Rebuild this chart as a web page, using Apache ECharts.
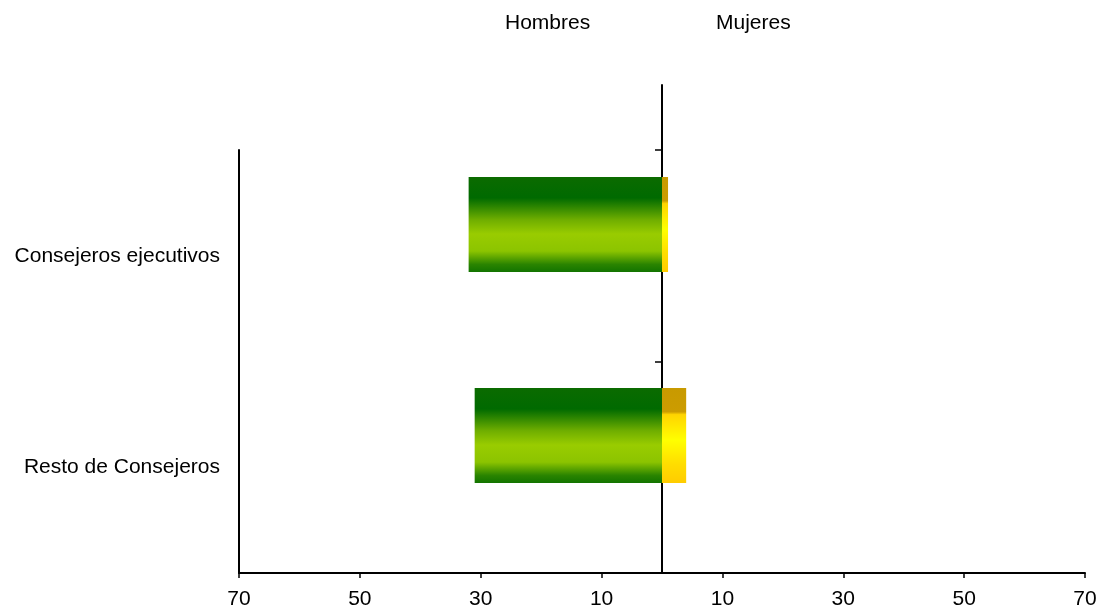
<!DOCTYPE html>
<html>
<head>
<meta charset="utf-8">
<script src="https://cdn.jsdelivr.net/npm/echarts@6/dist/echarts.min.js"></script>
<style>html,body{margin:0;padding:0;background:#fff}#c{width:1101px;height:612px}</style>
</head>
<body>
<div id="c"></div>
<script>
const categories = ['Consejeros ejecutivos', 'Resto de Consejeros'];
const hombres = [32, 31];
const mujeres = [1, 4];
const sideLabels = ['Hombres', 'Mujeres'];
const axisMin = -70, axisMax = 70, axisStep = 20;

const FONT = 'Arial, "Liberation Sans", sans-serif';
const chart = echarts.init(document.getElementById('c'));
const greenGrad = new echarts.graphic.LinearGradient(0, 0, 0, 1, [
  {offset: 0, color: '#0b6b00'}, {offset: 0.22, color: '#006a00'},
  {offset: 0.45, color: '#6fae00'}, {offset: 0.6, color: '#99cc00'},
  {offset: 0.78, color: '#8cc400'}, {offset: 0.92, color: '#2a8400'},
  {offset: 1, color: '#127400'}]);
const yellowGrad = new echarts.graphic.LinearGradient(0, 0, 0, 1, [
  {offset: 0, color: '#c89a00'}, {offset: 0.25, color: '#cc9c00'},
  {offset: 0.28, color: '#ffd400'}, {offset: 0.55, color: '#ffff00'},
  {offset: 0.8, color: '#ffdd00'}, {offset: 1, color: '#ffcc00'}]);

const hidden = {show: false};
chart.setOption({
  animation: false,
  backgroundColor: '#fff',
  graphic: [
    {type: 'text', left: 505, top: 13, style: {text: sideLabels[0], font: '21px ' + FONT, fill: '#000'}},
    {type: 'text', left: 716, top: 13, style: {text: sideLabels[1], font: '21px ' + FONT, fill: '#000'}}
  ],
  grid: [
    {left: 239, right: 16, top: 150, bottom: 39},
    {left: 239, right: 16, top: 85, bottom: 39},
    {left: 239, right: 16, top: 119, bottom: 71}
  ],
  xAxis: [
    {gridIndex: 0, type: 'value', min: axisMin, max: axisMax, interval: axisStep,
     axisLine: {show: true, onZero: false, lineStyle: {color: '#000', width: 2}},
     axisTick: {show: true, length: 5, lineStyle: {color: '#000', width: 1.5}},
     axisLabel: {color: '#000', fontSize: 21, fontFamily: FONT, margin: 16,
       formatter: v => String(Math.abs(v))},
     splitLine: hidden},
    {gridIndex: 1, type: 'value', min: axisMin, max: axisMax, show: false},
    {gridIndex: 2, type: 'value', min: axisMin, max: axisMax, show: false}
  ],
  yAxis: [
    {gridIndex: 0, type: 'category', data: categories, inverse: true, position: 'left',
     axisLine: {show: true, onZero: false, lineStyle: {color: '#000', width: 2}},
     axisTick: hidden,
     axisLabel: {color: '#000', fontSize: 21, fontFamily: FONT, margin: 19}},
    {gridIndex: 0, type: 'category', data: categories, inverse: true, position: 'left',
     axisLine: {show: true, onZero: true, lineStyle: {color: '#000', width: 2}},
     axisTick: {show: true, length: 7, lineStyle: {color: '#000', width: 1.5}},
     axisLabel: hidden},
    {gridIndex: 1, type: 'value', min: 0, max: 1,
     axisLine: {show: true, onZero: true, lineStyle: {color: '#000', width: 2}},
     axisTick: hidden, axisLabel: hidden, splitLine: hidden},
    {gridIndex: 2, type: 'category', data: categories, inverse: true, show: false}
  ],
  series: [
    {name: sideLabels[0], type: 'bar', xAxisIndex: 2, yAxisIndex: 3, stack: 'a', barWidth: 95,
     data: hombres.map(v => -v), itemStyle: {color: greenGrad}},
    {name: sideLabels[1], type: 'bar', xAxisIndex: 2, yAxisIndex: 3, stack: 'a', barWidth: 95,
     data: mujeres, itemStyle: {color: yellowGrad}}
  ]
});
</script>
</body>
</html>
